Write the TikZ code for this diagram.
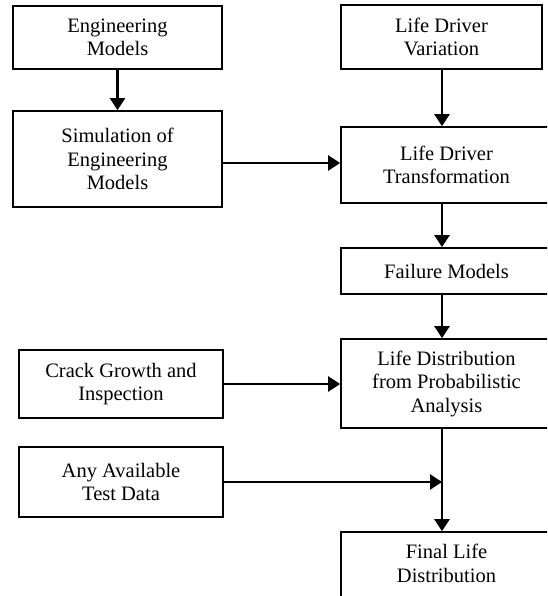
\documentclass[tikz,border=0pt]{standalone}
\usepackage{fontspec}
\setmainfont{Liberation Serif}
\usetikzlibrary{arrows.meta}
\begin{document}
\begin{tikzpicture}[x=1pt,y=-1pt,
  box/.style={draw, line width=1.7pt, align=center, inner sep=0pt, font=\fontsize{20.5}{23.5}\selectfont},
  txt/.style={align=center, inner sep=0pt, font=\fontsize{20.5}{23.5}\selectfont},
  arr/.style={line width=2.5pt, -{Triangle[length=12pt,width=15pt]}}]
\useasboundingbox (0,0) rectangle (547,596);
\clip (0,0) rectangle (547,596);
\node[box, minimum width=209pt, minimum height=63pt] (eng) at (117.5,37.5) {Engineering\\Models};
\node[box, minimum width=209pt, minimum height=96pt] (sim) at (117.5,159) {Simulation of\\Engineering\\Models};
\node[box, minimum width=201pt, minimum height=64pt] (ldv) at (441.5,37) {Life Driver\\Variation};
\node[box, minimum width=211pt, minimum height=76pt] (ldt) at (446.5,165) {Life Driver\\Transformation};
\node[box, minimum width=211pt, minimum height=46pt] (fail) at (446.5,271) {Failure Models};
\node[box, minimum width=211pt, minimum height=89pt] (ldist) at (446.5,383.5) {Life Distribution\\from Probabilistic\\Analysis};
\node[box, minimum width=204pt, minimum height=68pt] (crack) at (121,384) {Crack Growth and\\Inspection};
\node[box, minimum width=204pt, minimum height=70pt] (any) at (121,482) {Any Available\\Test Data};
\node[box, minimum width=211pt, minimum height=90pt] (final) at (446.5,577) {};
\node[txt] (finaltxt) at (446.5,563.5) {Final Life\\Distribution};
\coordinate (spine) at (442,0);
\draw[arr] (eng.south) -- (sim.north);
\draw[arr] (ldv.south -| spine) -- (ldt.north -| spine);
\draw[arr] ([yshift=-4pt]sim.east) -- ([yshift=-4pt]sim.east -| ldt.west);
\draw[arr] (ldt.south -| spine) -- (fail.north -| spine);
\draw[arr] (fail.south -| spine) -- (ldist.north -| spine);
\draw[arr] (crack.east) -- (crack.east -| ldist.west);
\draw[arr] (ldist.south -| spine) -- (final.north -| spine);
\draw[arr] (any.east) -- (any.east -| spine);
\end{tikzpicture}
\end{document}
